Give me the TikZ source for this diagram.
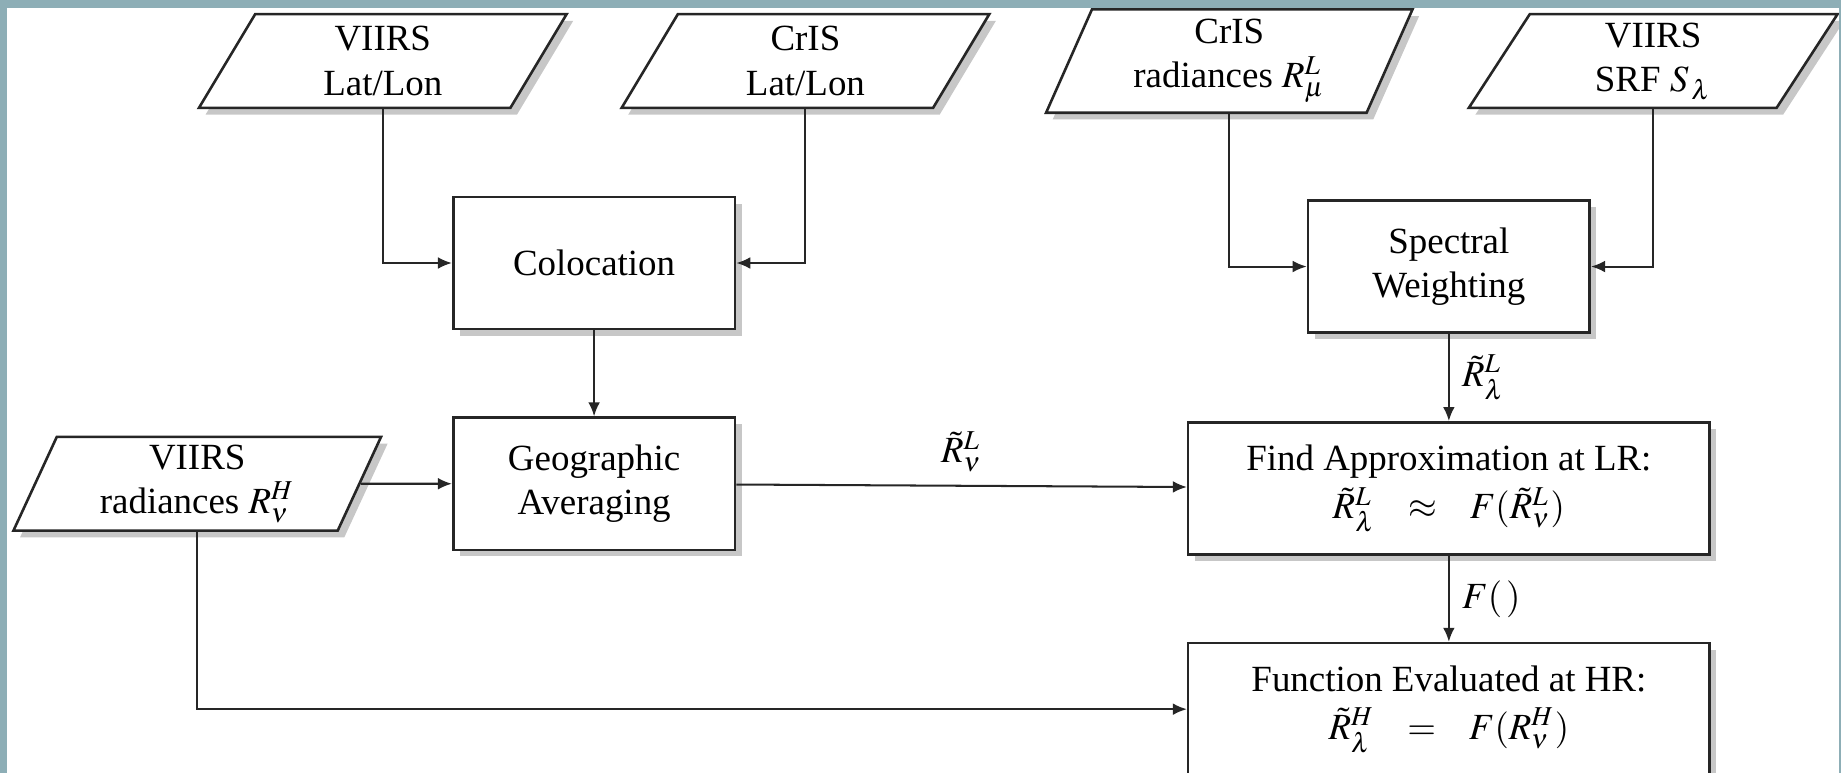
\documentclass[tikz,border=0pt]{standalone}
\usepackage{mathptmx}
\usepackage{fontspec}
\setmainfont{Liberation Serif}
\usetikzlibrary{arrows.meta, shapes.geometric, shadows}

\definecolor{frameDark}{HTML}{8DAEB6}
\definecolor{frameLight}{HTML}{A9D1D7}

\begin{document}
\begin{tikzpicture}[x=0.318pt, y=-0.318pt, align=center,
  io/.style={trapezium, trapezium left angle=70, trapezium right angle=110,
    trapezium stretches=true, draw=black!85, line width=0.7pt, fill=white,
    minimum width=100pt, minimum height=25.4pt, inner sep=1pt,
    drop shadow={shadow xshift=1.8pt, shadow yshift=-1.8pt, fill=black!22, opacity=1}},
  proc/.style={rectangle, draw=black!85, line width=0.7pt, fill=white,
    minimum width=76.3pt, minimum height=35.8pt,
    drop shadow={shadow xshift=1.8pt, shadow yshift=-1.8pt, fill=black!22, opacity=1}},
  wide/.style={proc, minimum width=141.2pt},
  flow/.style={draw=black!85, line width=0.55pt, -{Latex[length=3.8pt, width=3.2pt]}}]

\useasboundingbox (0,0) rectangle (1568,658);
\clip (0,0) rectangle (1568,658);

% inputs
\path (326,52) node[io] (vll) {VIIRS\\Lat/Lon}
      (686,52) node[io] (cll) {CrIS\\Lat/Lon}
      (1047,52) node[io, minimum height=28pt] (crad) {CrIS\\radiances $R^L_\mu$}
      (1408,52) node[io] (srf) {VIIRS\\SRF $S_{\,\lambda}$}
      (168,412) node[io] (vrad) {VIIRS\\radiances $R^H_\nu$};

% processing steps
\path (506,224) node[proc] (coloc) {Colocation}
      (1234,227) node[proc] (spec) {Spectral\\Weighting}
      (506,412) node[proc] (geo) {Geographic\\Averaging}
      (1234,416) node[wide] (approx) {Find Approximation at LR:\\[1pt]$\tilde{R}^L_\lambda \;\;\;\approx\;\;\; F(\tilde{R}^L_\nu)$}
      (1234,604) node[wide] (evalhr) {Function Evaluated at HR:\\[1pt]$\tilde{R}^H_\lambda \;\;\;=\;\;\; F(R^H_\nu)$};

\draw[flow] (vll) |- (coloc);
\draw[flow] (cll) |- (coloc);
\draw[flow] (coloc) -- (geo);
\draw[flow] (vrad) -- (geo);
\draw[flow] (geo) -- node[above] {$\tilde{R}^L_\nu$} (approx);
\draw[flow] (crad) |- (spec);
\draw[flow] (srf) |- (spec);
\draw[flow] (spec) -- node[right] {$\tilde{R}^L_\lambda$} (approx);
\draw[flow] (approx) -- node[right] {$F(\,)$} (evalhr);
\draw[flow] (vrad) |- (evalhr);

% frame
\fill[frameDark] (0,0) rectangle (6,658);
\fill[frameDark] (1566,0) rectangle (1568,658);
\shade[left color=frameDark, middle color=frameLight, right color=frameDark] (0,0) rectangle (1568,6);
\end{tikzpicture}
\end{document}
